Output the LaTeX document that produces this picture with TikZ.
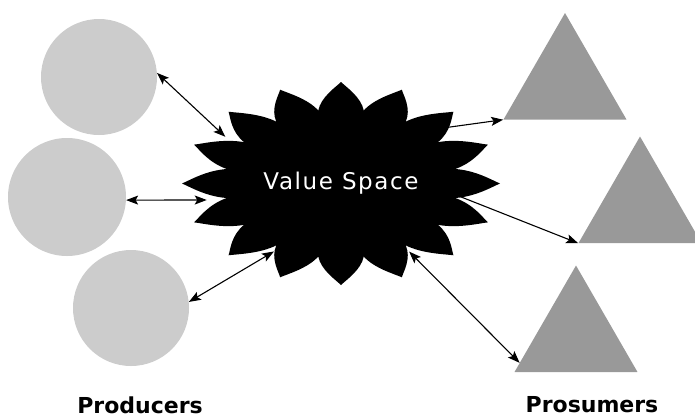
\documentclass[tikz,border=0pt]{standalone}
\usepackage{fontspec}
\setsansfont{DejaVu Sans}
\newfontfamily\burstfont[LetterSpace=7]{DejaVu Sans}
\usetikzlibrary{arrows.meta,shapes.geometric}
\definecolor{prodgray}{RGB}{204,204,204}
\definecolor{prosgray}{RGB}{153,153,153}
\tikzset{
  prodnode/.style={circle, fill=prodgray, inner sep=0pt},
  prosnode/.style={regular polygon, regular polygon sides=3, fill=prosgray,
    inner sep=0pt, minimum size=142pt},
  linkln/.style={{Stealth[length=12pt,width=9pt,inset=2.5pt]}-{Stealth[length=12pt,width=9pt,inset=2.5pt]},
    line width=1.1pt},
  outln/.style={-{Stealth[length=12pt,width=9pt,inset=2.5pt]}, line width=1.1pt},
  grouplbl/.style={inner sep=0pt, font=\sffamily\bfseries\fontsize{22}{24}\selectfont},
}
% point of the burst: radius factor, angle
\newcommand{\bpt}[2]{({341+159*(#1)*cos(#2)}, {183.5+101.5*(#1)*sin(#2)})}

\begin{document}
\begin{tikzpicture}[x=1pt, y=-1pt]
    \useasboundingbox (0,0) rectangle (695,418);
    % producers
    \foreach \n/\x/\y/\d in {c1/99/77/116, c2/67/197/118, c3/131/308/116} {
      \node[prodnode, minimum size=\d pt] (\n) at (\x,\y) {};
    }
    % prosumers
    \foreach \n/\x/\y in {t1/565/84, t2/640/207.5, t3/576/336.5} {
      \node[prosnode] (\n) at (\x,\y) {};
    }
    % value space burst
    \fill \bpt{0.733}{-11.25} \foreach \a in {0,22.5,...,337.5} {
        .. controls \bpt{0.86}{\a-8.5} and \bpt{0.95}{\a-2} .. \bpt{1}{\a}
        .. controls \bpt{0.95}{\a+2} and \bpt{0.86}{\a+8.5} .. \bpt{0.733}{\a+11.25}
      } -- cycle;
    \node[ellipse, inner sep=0pt, minimum width=273pt, minimum height=175pt,
      text=white, font=\burstfont\fontsize{23}{26}\selectfont]
      (vs) at (341,183.5) {Value Space};
    % links
    \draw[linkln] (c1.4) -- (vs.158);
    \draw[linkln] (c2.-3) -- (vs.187.4);
    \draw[linkln, shorten >=-10pt] (c3.6) -- (vs.224);
    \draw[outln] (vs.28) -- (t1.corner 2);
    \draw[outln, shorten <=-15pt] (vs.-8) -- (t2.corner 2);
    \draw[linkln, shorten <=-8pt] (vs.-45) -- (t3.205);
    % group labels
    \node[grouplbl] (prodlbl) at (140,405) {Producers};
    \node[grouplbl] (proslbl) at (592,405) {Prosumers};
\end{tikzpicture}
\end{document}
